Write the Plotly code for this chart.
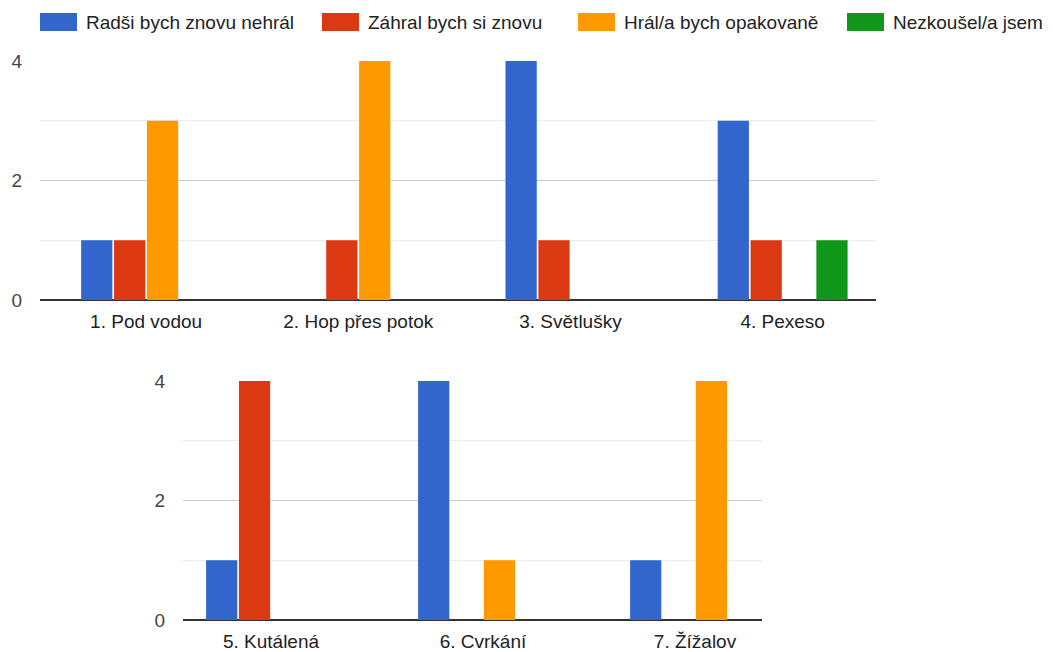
import plotly.graph_objects as go

# Data
categories_top = ["1. Pod vodou", "2. Hop přes potok", "3. Světlušky", "4. Pexeso"]
categories_bottom = ["5. Kutálená", "6. Cvrkání", "7. Žížalov"]

series_names = [
    "Radši bych znovu nehrál",
    "Záhral bych si znovu",
    "Hrál/a bych opakovaně",
    "Nezkoušel/a jsem",
]
series_colors = ["#3366cc", "#dc3912", "#ff9900", "#109618"]

nehral = [1, 0, 4, 3, 1, 4, 1]
zahral = [1, 1, 1, 1, 4, 0, 0]
opakovane = [3, 4, 0, 0, 0, 1, 4]
nezkousel = [0, 0, 0, 1, 0, 0, 0]

y_ticks = [0, 2, 4]

W, H = 1053, 652
FONT = "Liberation Sans, Arial, sans-serif"
FS = 19

fig = go.Figure()

all_values = [nehral, zahral, opakovane, nezkousel]
n_top = len(categories_top)
for name, color, vals in zip(series_names, series_colors, all_values):
    fig.add_trace(
        go.Bar(
            x=categories_top,
            y=vals[:n_top],
            name=name,
            marker=dict(color=color, line=dict(width=0)),
            xaxis="x",
            yaxis="y",
            showlegend=False,
        )
    )
    fig.add_trace(
        go.Bar(
            x=categories_bottom,
            y=vals[n_top:],
            name=name,
            marker=dict(color=color, line=dict(width=0)),
            xaxis="x2",
            yaxis="y2",
            showlegend=False,
        )
    )


def px_x(p):
    return p / W


def px_y(p):
    return 1 - p / H


# custom legend: swatches + labels
legend_swatch_x = [40, 322, 578, 847]
shapes = []
annotations = []
for name, color, sx in zip(series_names, series_colors, legend_swatch_x):
    shapes.append(
        dict(
            type="rect",
            xref="paper",
            yref="paper",
            x0=px_x(sx),
            x1=px_x(sx + 37),
            y0=px_y(13),
            y1=px_y(31),
            fillcolor=color,
            line=dict(width=0),
        )
    )
    annotations.append(
        dict(
            text=name,
            xref="paper",
            yref="paper",
            x=px_x(sx + 44),
            y=px_y(22),
            xanchor="left",
            yanchor="middle",
            showarrow=False,
            font=dict(size=FS, color="#222222", family=FONT),
        )
    )

yaxis_common = dict(
    range=[0, 4],
    tickvals=y_ticks,
    showgrid=True,
    gridcolor="#cccccc",
    gridwidth=1,
    minor=dict(dtick=1, showgrid=True, gridcolor="#ebebeb", gridwidth=1),
    zeroline=True,
    zerolinecolor="#333333",
    zerolinewidth=2,
    ticklabelstandoff=17,
    tickfont=dict(size=FS, color="#444444", family=FONT),
    fixedrange=True,
    automargin=False,
)

xaxis_common = dict(
    type="category",
    showgrid=False,
    showline=False,
    zeroline=False,
    ticks="",
    ticklabelstandoff=8,
    tickfont=dict(size=FS, color="#222222", family=FONT),
    fixedrange=True,
    automargin=False,
)

fig.update_layout(
    width=W,
    height=H,
    autosize=False,
    margin=dict(l=0, r=0, t=0, b=0, pad=0),
    paper_bgcolor="white",
    plot_bgcolor="white",
    barmode="group",
    bargap=0.38,
    bargroupgap=0.05,
    showlegend=False,
    font=dict(family=FONT),
    xaxis=dict(
        xaxis_common,
        domain=[px_x(40), px_x(876)],
        range=[-0.5, 3.44],
        anchor="y",
    ),
    yaxis=dict(
        yaxis_common,
        domain=[px_y(300), px_y(61)],
        anchor="x",
    ),
    xaxis2=dict(
        xaxis_common,
        domain=[px_x(183), px_x(762)],
        range=[-0.415, 2.316],
        anchor="y2",
    ),
    yaxis2=dict(
        yaxis_common,
        domain=[px_y(620), px_y(381)],
        anchor="x2",
    ),
    shapes=shapes,
    annotations=annotations,
)

fig.write_html(
    "out.html",
    config={"displayModeBar": False},
    post_script="document.body.style.margin='0';",
)
